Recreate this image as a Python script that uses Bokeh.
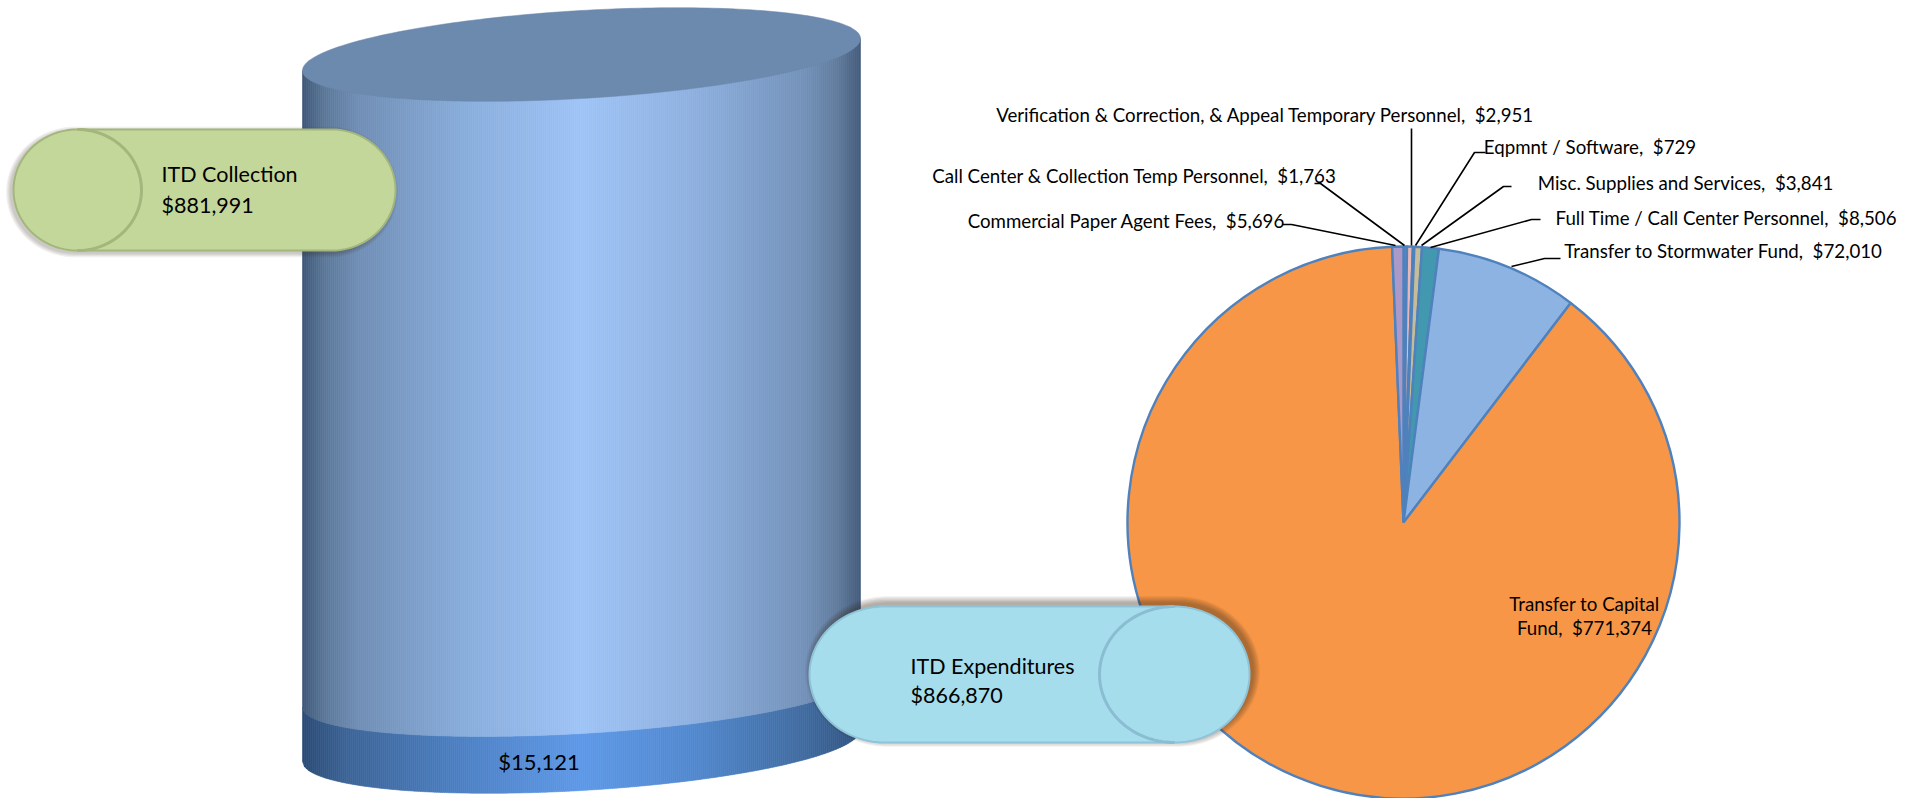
import numpy as np
from bokeh.plotting import figure
from bokeh.models import Range1d
from bokeh.core.properties import value
from bokeh.embed import file_html
from bokeh.resources import INLINE

# ---- data ----
slice_names = ["Call Center & Collection Temp Personnel", "Verification & Correction, & Appeal Temporary Personnel",
               "Eqpmnt / Software", "Misc. Supplies and Services", "Full Time / Call Center Personnel",
               "Transfer to Stormwater Fund", "Transfer to Capital Fund", "Commercial Paper Agent Fees"]
slice_values = [1763, 2951, 729, 3841, 8506, 72010, 771374, 5696]
collection_name = "ITD Collection"
collection_total = 881991
expenditure_name = "ITD Expenditures"
expenditure_total = 866870
remainder_total = 15121

# ---- styles / layout ----
slice_colors = ["#538dd5", "#e6b9b8", "#95b3d7", "#c4bd97", "#4198af", "#8db3e2", "#f79646", "#ab9ac7"]
FONT = value("Lato")
PIE_X, PIE_Y, PIE_R = 1403, 522, 276
label_pos = [(1134, 175), (1265, 114), (1589.5, 146), (1685, 182), (1726, 217), (1723, 250), None, (1126, 220)]
leaders = [
    [(1314, 183), (1320, 183), (1404, 245)],
    [(1411, 128), (1411, 245)],
    [(1485, 152), (1474, 152), (1415, 245)],
    [(1511, 186), (1503, 186), (1421, 245)],
    [(1540, 219), (1531, 219), (1430, 247)],
    [(1560, 258), (1544, 258), (1511, 266)],
    [(1282, 224), (1291, 224), (1395, 245)],
]

def Y(py):
    return 798 - np.asarray(py, dtype=float)

p = figure(width=1914, height=798, x_range=Range1d(0, 1914), y_range=Range1d(0, 798),
           x_axis_type=None, y_axis_type=None, toolbar_location=None, output_backend="svg",
           min_border=0, outline_line_color=None, background_fill_color="white")
p.grid.visible = False

# ---- cylinder ----
CX, W, SHEAR, BH = 581, 279, 16, 42
TOP_CY, BAND_CY, BOT_CY = 54, 691, 745

def lower_arc(x, cy, bh=BH):
    c = (x - CX) / W
    return cy - SHEAR * c + bh * np.sqrt(np.clip(1 - c * c, 0, 1))

def ramp(stops, t):
    ts = [s[0] for s in stops]
    rgb = np.array([[int(s[1][i:i + 2], 16) for i in (1, 3, 5)] for s in stops], dtype=float)
    return "#%02x%02x%02x" % tuple(int(round(np.interp(t, ts, rgb[:, k]))) for k in range(3))

body_stops = [(0, "#3d5778"), (.04, "#5b7899"), (.1, "#6f8db5"), (.3, "#88aedd"), (.5, "#9dc3f7"),
              (.7, "#8db0e0"), (.9, "#7291ba"), (.96, "#5f7a9c"), (1, "#435b7c")]
band_stops = [(0, "#2a4a75"), (.08, "#3b6497"), (.3, "#4d82c8"), (.5, "#5d98e8"), (.7, "#5088d0"),
              (.9, "#3f6ba0"), (1, "#2f5380")]

edges = np.linspace(CX - W, CX + W, 280)
def strips(cy_top, cy_bot, stops, bh_bot=BH):
    xs, ys, cols = [], [], []
    for a, b in zip(edges[:-1], edges[1:]):
        xs.append([a, b, b, a])
        ys.append(list(Y([lower_arc(a, cy_top), lower_arc(b, cy_top), lower_arc(b, cy_bot, bh_bot), lower_arc(a, cy_bot, bh_bot)])))
        cols.append(ramp(stops, ((a + b) / 2 - (CX - W)) / (2 * W)))
    p.patches(xs, ys, fill_color=cols, line_color=cols, line_width=0.6)

strips(BAND_CY, BOT_CY, band_stops, 45)
strips(TOP_CY, BAND_CY, body_stops)

t = np.linspace(0, 2 * np.pi, 240)
p.patch(CX + W * np.cos(t), Y(TOP_CY - SHEAR * np.cos(t) + 44 * np.sin(t)), fill_color="#6c89ae", line_color="#6c89ae", line_width=0.5)

p.text([538.5], Y([761]), text=[f"${remainder_total:,}"], text_font=FONT, text_font_size="22px",
       text_align="center", text_baseline="middle", text_color="#000000")

# ---- pie ----
total = sum(slice_values)
ang = np.cumsum([0] + slice_values) / total * 2 * np.pi
p.wedge(x=PIE_X, y=float(Y(PIE_Y)), radius=PIE_R, start_angle=np.pi / 2 - ang[:-1], end_angle=np.pi / 2 - ang[1:],
        direction="clock", fill_color=slice_colors, line_color="#4f81bd", line_width=2.4)

p.multi_line([[q[0] for q in l] for l in leaders], [list(Y([q[1] for q in l])) for l in leaders],
             line_color="#000000", line_width=1.6)

lx, ly, lt = [], [], []
for n, v, pos in zip(slice_names, slice_values, label_pos):
    if pos is not None:
        lx.append(pos[0]); ly.append(float(Y(pos[1]))); lt.append(f"{n},\u00a0 ${v:,}")
p.text(lx, ly, text=lt, text_font=FONT, text_font_size="18.7px", text_align="center", text_baseline="middle", text_color="#000000")
cap = slice_names[6]
cap_v = slice_values[6]
p.text([1584, 1584], Y([603, 627]), text=[cap.rsplit(" ", 1)[0], f"{cap.rsplit(' ', 1)[1]},\u00a0 ${cap_v:,}"],
       text_font=FONT, text_font_size="18.7px", text_align="center", text_baseline="middle", text_color="#000000")

# ---- capsules ----
def capsule(x0, x1, y0, y1, rx):
    ym, ry = (y0 + y1) / 2, (y1 - y0) / 2
    a = np.linspace(np.pi / 2, 3 * np.pi / 2, 60)
    left_x = x0 + rx + rx * np.cos(a); left_y = ym - ry * np.sin(a)
    b = np.linspace(-np.pi / 2, np.pi / 2, 60)
    right_x = x1 - rx + rx * np.cos(b); right_y = ym - ry * np.sin(b)
    return np.r_[left_x, right_x], np.r_[left_y, right_y]

def draw_capsule(x0, x1, y0, y1, rx, fill, edge, inner, side, sdx, sdy, layers, alpha):
    for i in range(layers, 0, -1):
        d = i * 1.2
        xs, ys = capsule(x0 + sdx - d, x1 + sdx + d, y0 + sdy - d, y1 + sdy + d, rx + d)
        p.patch(xs, Y(ys), fill_color="#3a2a1a", fill_alpha=alpha, line_color=None)
    xs, ys = capsule(x0, x1, y0, y1, rx)
    p.patch(xs, Y(ys), fill_color=fill, line_color=edge, line_width=2)
    ym, ry = (y0 + y1) / 2, (y1 - y0) / 2
    a = np.linspace(-np.pi / 2, np.pi / 2, 60)
    if side == "left":
        cx = x0 + rx; ax = cx + rx * np.cos(a)
    else:
        cx = x1 - rx; ax = cx - rx * np.cos(a)
    p.line(ax, Y(ym + ry * np.sin(a)), line_color=inner, line_width=3)

draw_capsule(13, 395, 129, 250, 64, "#c4d79b", "#a3b67c", "#a3b67c", "left", -2.5, 2, 4, 0.07)
draw_capsule(809, 1249, 606, 742, 75, "#a5ddec", "#8fc4d8", "#8abcd2", "right", 3, -3, 6, 0.075)

p.text([161, 161], Y([173, 204]), text=[collection_name, f"${collection_total:,}"], text_font=FONT,
       text_font_size="21.5px", text_align="left", text_baseline="middle", text_color="#000000")
p.text([910, 910], Y([665, 694]), text=[expenditure_name, f"${expenditure_total:,}"], text_font=FONT,
       text_font_size="21.5px", text_align="left", text_baseline="middle", text_color="#000000")

open("out.html", "w").write(file_html(p, INLINE))
